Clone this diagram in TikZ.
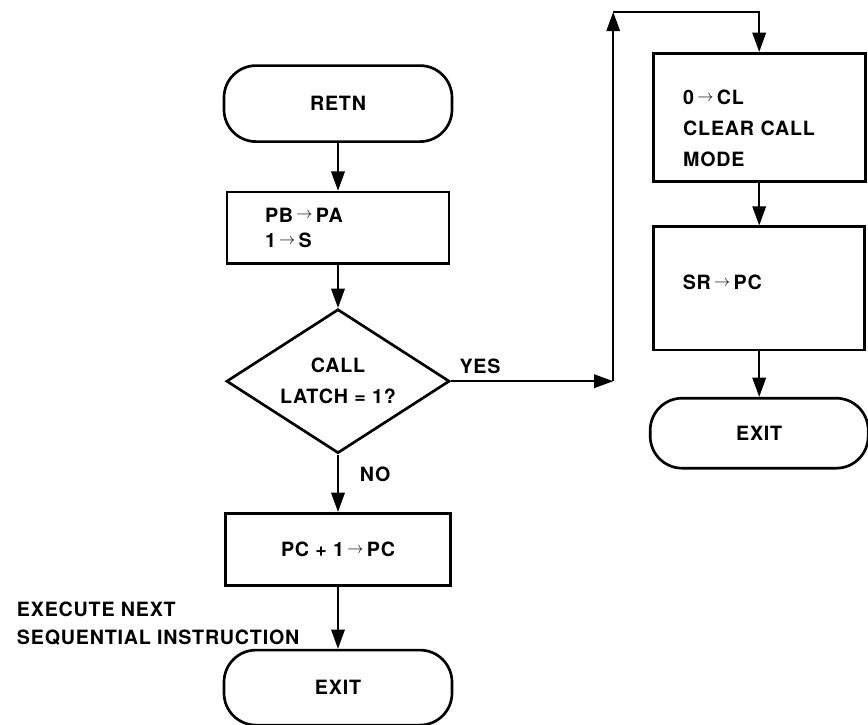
\documentclass[tikz,border=0pt]{standalone}
\usepackage{fontspec}
\setmainfont{TeX Gyre Heros}[LetterSpace=4]
\usepackage{tikz}
\usetikzlibrary{arrows.meta,shapes,positioning}
\newcommand{\toarr}{\,\raisebox{.3ex}{\scalebox{0.8}{$\rightarrow$}}\,}

\begin{document}
\begin{tikzpicture}[font=\fontsize{14}{18}\selectfont\bfseries,
term/.style={draw,rectangle,rounded corners=0.8cm,line width=1.9pt,minimum width=5.7cm,minimum height=1.9cm},
box/.style={draw,line width=1.9pt,align=left},
flow/.style={line width=1.1pt,-{Triangle[length=4.8mm,width=3.4mm]}}]
\useasboundingbox (0,0) rectangle (21.7,-18.125);
%left column
\node[term] (retn) at (8.45,-2.59) {RETN};
\node[box,minimum width=5.55cm,minimum height=1.78cm,inner xsep=0.95cm,text width=3.65cm] (pbpa) at (8.45,-5.69) {PB\toarr PA\\1\toarr S};
\node[draw,diamond,line width=1.9pt,minimum width=5.58cm,minimum height=3.6cm,inner sep=0pt,aspect=1.55,align=center] (latch) at (8.45,-9.53) {CALL\\[4pt]LATCH = 1?};
\node[box,align=center,minimum width=5.63cm,minimum height=1.8cm] (pcinc) at (8.45,-13.73) {PC + 1\toarr PC};
\node[term,minimum height=1.875cm] (exitl) at (8.45,-17.19) {EXIT};
%right column
\node[box,minimum width=5.3cm,minimum height=3.2cm,inner xsep=0.75cm,text width=3.8cm] (clrmode) at (18.98,-2.93) {\rule{0pt}{26pt}0\toarr CL\\[4pt]CLEAR CALL\\[4pt]MODE};
\node[box,minimum width=5.28cm,minimum height=3.08cm,inner xsep=0.73cm,text width=3.82cm] (srpc) at (18.98,-7.21) {\rule[-9pt]{0pt}{9pt}SR\toarr PC};
\node[term,minimum width=5.45cm,minimum height=1.75cm] (exitr) at (18.98,-10.83) {EXIT};
%labels
\node (yes) at (12.0,-9.15) {YES};
\node (no) at (9.38,-11.85) {NO};
\node[anchor=west,align=left] (next) at (0.3,-15.58) {EXECUTE NEXT\\[2pt]SEQUENTIAL INSTRUCTION};
\coordinate (yesa) at (15.33,-9.53);
\coordinate (yesb) at (15.33,-0.3);
%connectors
\draw[flow] (retn) -- (pbpa);
\draw[flow] (pbpa) -- (latch);
\draw[flow] (latch) -- (pcinc);
\draw[flow] (pcinc) -- (exitl);
\draw[flow] (latch) -- (yesa);
\draw[flow] (yesa) -- (yesb);
\draw[flow] (yesb) -| (clrmode);
\draw[flow] (clrmode) -- (srpc);
\draw[flow] (srpc) -- (exitr);
\end{tikzpicture}
\end{document}
